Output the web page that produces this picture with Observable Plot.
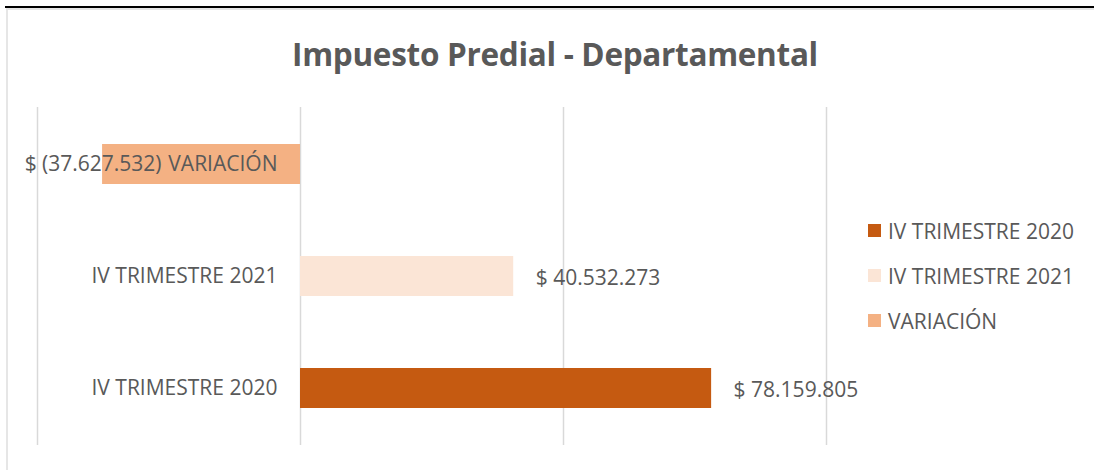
<!DOCTYPE html>
<html>
<head>
<meta charset="utf-8">
<script src="https://cdn.jsdelivr.net/npm/d3@7"></script>
<script src="https://cdn.jsdelivr.net/npm/@observablehq/plot@0.6"></script>
<style>
  html, body { margin: 0; padding: 0; background: #fff; }
  #wrap { position: relative; width: 1094px; height: 470px; overflow: hidden; font-family: "Open Sans", "Noto Sans", sans-serif; color: #595959; }
  #topline { position: absolute; left: 5px; right: 0; top: 6px; height: 2px; background: #000; }
  #topgray { position: absolute; left: 7px; right: 0; top: 8px; height: 2px; background: #e6e6e6; }
  #leftgray { position: absolute; left: 6px; top: 8px; bottom: 0; width: 2px; background: #e6e6e6; }
  #title { position: absolute; left: 0; width: 1110px; top: 32px; line-height: 44px; text-align: center; font-size: 31.5px; font-weight: bold; color: #595959; letter-spacing: -0.3px; }
  #chart { position: absolute; left: 0; top: 0; }
  #legend { position: absolute; left: 868px; top: 208px; font-size: 21px; }
  .item { display: flex; align-items: center; height: 45px; line-height: 26px; }
  .sw { width: 13px; height: 13px; margin-right: 7px; }
</style>
</head>
<body>
<div id="wrap">
  <div id="chart"></div>
  <div id="topline"></div>
  <div id="topgray"></div>
  <div id="leftgray"></div>
  <div id="title">Impuesto Predial - Departamental</div>
  <div id="legend"></div>
</div>
<script>
const categories = ["IV TRIMESTRE 2020", "IV TRIMESTRE 2021", "VARIACIÓN"];
const values = [78159805, 40532273, -37627532];
const colors = ["#C55A11", "#FBE5D6", "#F4B183"];
const xTicks = [-50000000, 0, 50000000, 100000000];
const chartTitle = "Impuesto Predial - Departamental";

const fmtNum = d3.formatLocale({decimal: ",", thousands: ".", grouping: [3], currency: ["$", ""]}).format(",d");
const fmt = v => v < 0 ? "$ (" + fmtNum(-v) + ")" : "$ " + fmtNum(v);

const data = categories.map((c, i) => ({cat: c, value: values[i], color: colors[i], label: fmt(values[i])}));
const yOrder = categories.slice().reverse();
const fs = 21;

const plot = Plot.plot({
  width: 1094,
  height: 470,
  marginTop: 107,
  marginBottom: 25,
  marginLeft: 37,
  marginRight: 268,
  style: {fontFamily: "'Open Sans', 'Noto Sans', sans-serif", color: "#595959", background: "transparent"},
  x: {domain: [xTicks[0], xTicks[xTicks.length - 1]], axis: null},
  y: {domain: yOrder, axis: null, paddingInner: 0.646, paddingOuter: 0.32},
  marks: [
    Plot.ruleX(xTicks, {stroke: "#d9d9d9", strokeWidth: 1.5}),
    Plot.barX(data, {x1: 0, x2: "value", y: "cat", fill: "color"}),
    Plot.text(data, {x: 0, y: "cat", text: "cat", textAnchor: "end", dx: -23, fontSize: fs, fill: "#595959"}),
    Plot.text(data.filter(d => d.value >= 0), {x: "value", y: "cat", text: "label", textAnchor: "start", dx: 22, dy: 2, fontSize: fs, fill: "#595959"}),
    Plot.text(data.filter(d => d.value < 0), {x: "value", y: "cat", text: "label", textAnchor: "end", dx: 59, fontSize: fs, fill: "#595959"})
  ]
});
document.getElementById("chart").appendChild(plot);
document.getElementById("title").textContent = chartTitle;

const legend = document.getElementById("legend");
categories.forEach((c, i) => {
  const it = document.createElement("div");
  it.className = "item";
  const sw = document.createElement("div");
  sw.className = "sw";
  sw.style.background = colors[i];
  const t = document.createElement("span");
  t.textContent = c;
  it.appendChild(sw);
  it.appendChild(t);
  legend.appendChild(it);
});
</script>
</body>
</html>
